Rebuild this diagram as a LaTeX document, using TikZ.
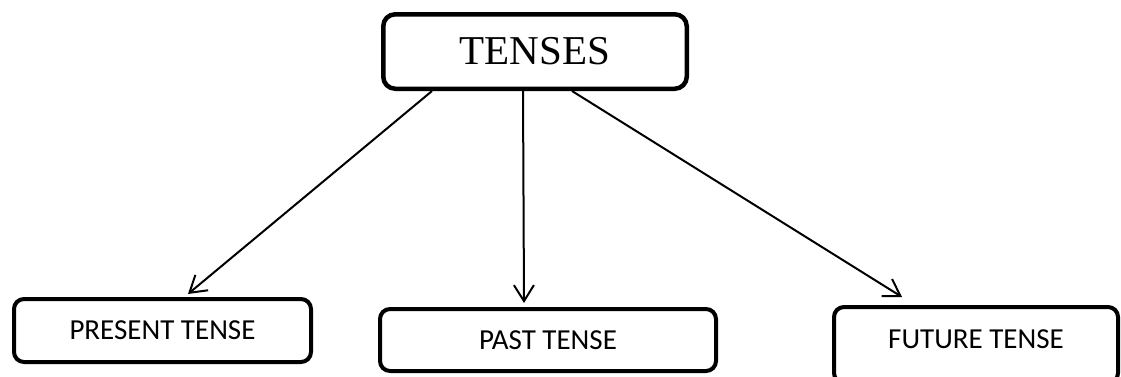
\documentclass[tikz,border=0pt]{standalone}
\usepackage{fontspec}
\setmainfont{Liberation Serif}
\newfontfamily\boxfont{Carlito}
\usetikzlibrary{arrows.meta}

\tikzset{
  headbox/.style={draw=black, line width=4.5pt, rounded corners=12pt,
    minimum width=303.5pt, minimum height=74.5pt, inner sep=0pt,
    font=\fontsize{41}{41}\selectfont},
  tensebox/.style={draw=black, line width=4pt, rounded corners=10pt,
    inner sep=0pt, font=\boxfont\fontsize{29}{29}\selectfont},
  branch/.style={draw=black, line width=2pt,
    -{Straight Barb[length=16pt, width=20pt, line width=2pt]}}
}

\begin{document}
\begin{tikzpicture}[x=1pt, y=-1pt]
  \useasboundingbox (0,0) rectangle (1121,376);

  % main heading
  \node[headbox] (top) at (535,51.5) {TENSES};

  % the three tenses
  \node[tensebox, minimum width=297pt, minimum height=63pt]
    (pres) at (162.5,330.5) {PRESENT TENSE};
  \node[tensebox, minimum width=336pt, minimum height=62pt]
    (past) at (548,340) {PAST TENSE};
  % this box runs past the lower edge of the page
  \node[tensebox, minimum width=284pt, minimum height=76pt,
    label={[font=\boxfont\fontsize{29}{29}\selectfont, yshift=6pt]center:FUTURE TENSE}]
    (fut) at (976,345) {};

  % arrow heads stop just above each box
  \coordinate (e1) at (188,294);
  \coordinate (e2) at (524,303);
  \coordinate (e3) at (902,297);

  \draw[branch] (top.south -| 432,0) -- (e1);
  \draw[branch] (top.south -| 523,0) -- (e2);
  \draw[branch] (top.south -| 572,0) -- (e3);
\end{tikzpicture}
\end{document}
